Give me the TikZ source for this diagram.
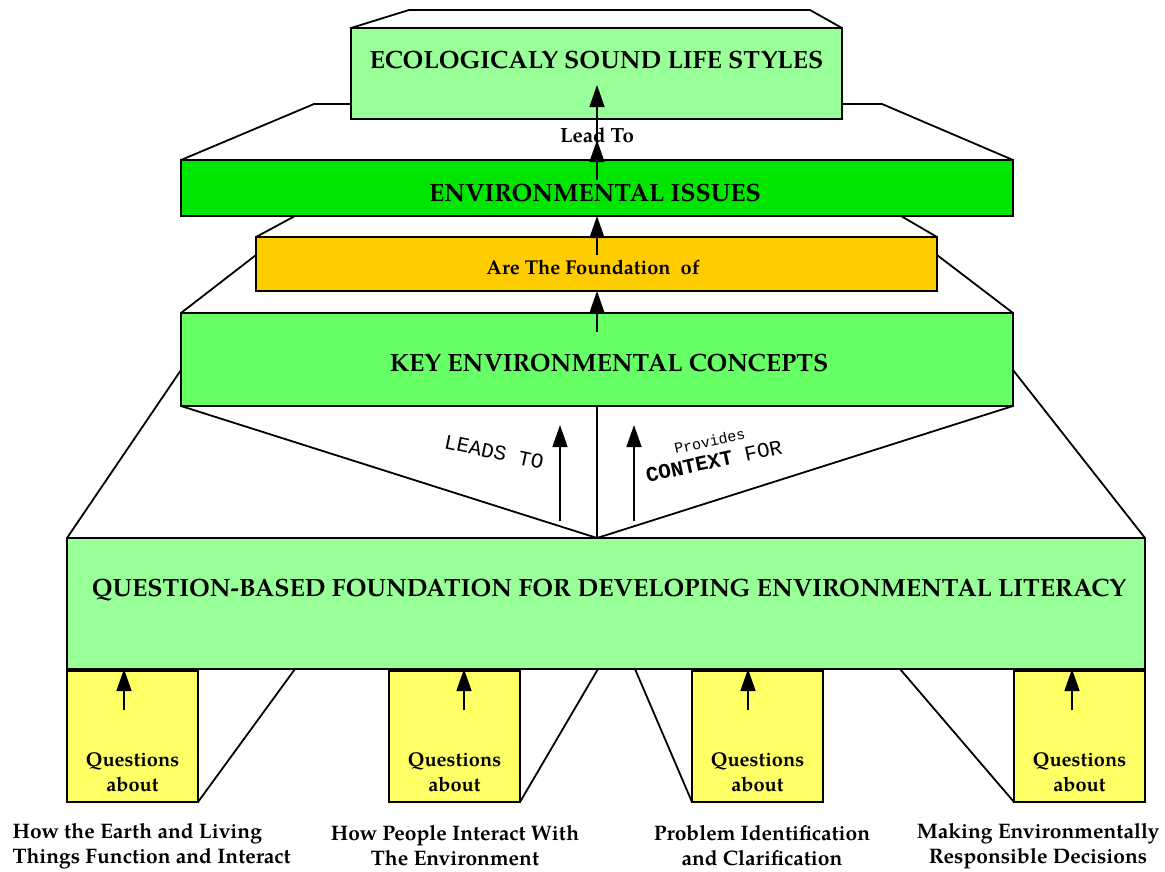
\documentclass[tikz,border=0pt]{standalone}
\usepackage{fontspec}
\setmainfont{TeX Gyre Pagella}
\setmonofont{Liberation Mono}
\usetikzlibrary{arrows.meta,backgrounds}

\definecolor{lifegreen}{RGB}{153,255,153}
\definecolor{issuegreen}{RGB}{0,230,0}
\definecolor{foundorange}{RGB}{255,204,0}
\definecolor{keygreen}{RGB}{102,255,102}
\definecolor{qyellow}{RGB}{255,255,102}

\tikzset{
  box/.style={draw, line width=1.6pt, inner sep=0pt, outer sep=0pt},
  title/.style={font=\bfseries\fontsize{25}{30}\selectfont},
  qtext/.style={font=\bfseries\fontsize{20}{25}\selectfont, align=center},
  htext/.style={font=\bfseries\fontsize{21}{25}\selectfont, align=center},
  up/.style={line width=1.4pt, -{Triangle[width=15pt,length=22pt]}},
  persp/.style={line width=1.8pt}
}

\begin{document}
\begin{tikzpicture}[x=1pt,y=-1pt]
		\useasboundingbox (0,0) rectangle (1165,871);
		%%%%% BOXES %%%%%
		\node[box, fill=lifegreen, minimum width=491pt, minimum height=91pt] (life) at (596.5,73.5) {};
		\node[box, fill=issuegreen, minimum width=832pt, minimum height=56pt] (issue) at (597,188) {};
		\node[box, fill=foundorange, minimum width=681pt, minimum height=54pt] (found) at (596.5,264) {};
		\node[box, fill=keygreen, minimum width=832pt, minimum height=93pt] (key) at (597,359.5) {};
		\node[box, fill=lifegreen, minimum width=1078pt, minimum height=131pt] (quest) at (606,603.5) {};
		
		\node[title] at (596.5,60) {ECOLOGICALY SOUND LIFE STYLES};
		\node[title] at (595,193) {ENVIRONMENTAL ISSUES};
		\node[qtext] at (593,267) {Are The Foundation\ \ of};
		\node[title] at (609,363) {KEY ENVIRONMENTAL CONCEPTS};
		\node[title] at (609,590) {QUESTION-BASED FOUNDATION FOR DEVELOPING ENVIRONMENTAL LITERACY};
		
		%%%%% QUESTIONS %%%%%
		\foreach \cx/\ax/\n in {132.5/124/1, 454.5/464/2, 757.5/748/3, 1079.5/1072/4} {
			\node[box, fill=qyellow, minimum width=131pt, minimum height=131pt] (q\n) at (\cx,736.5) {};
			\node[qtext] at (\cx,772) {Questions\\about};
			\coordinate (t\n) at (\ax,710);
			\draw[up] (t\n) -- (t\n |- quest.south);
		}
		
		\node[htext, align=left, anchor=west] (h1) at (9,846) {How the Earth and Living\\Things Function and Interact};
		\node[htext] (h2) at (455,846) {How People Interact With\\The Environment};
		\node[htext] (h3) at (762,846) {Problem Identification\\and Clarification};
		\node[htext] (h4) at (1038,846) {Making Environmentally\\Responsible Decisions};
		
		%%%%% PERSPECTIVE LINES %%%%%
		\begin{scope}[on background layer]
			\draw[persp] (life.north west) -- (409,10) -- (810,10) -- (life.north east);
			\draw[persp] (issue.north west) -- (314,104) -- (882,104) -- (issue.north east);
			\draw[persp] (found.north west) -- (295,216) -- (901,216) -- (found.north east);
			\draw[persp] (key.north west) -- ([yshift=-18pt]found.north west);
			\draw[persp] (key.north east) -- ([yshift=-18pt]found.north east);
			\draw[persp] (quest.north west) -- (181,370);
			\draw[persp] (quest.north east) -- (1013,370);
		\end{scope}
		\coordinate (apex) at (597,538);
		\draw[persp] (key.south west) -- (apex) -- (key.south east);
		\draw[persp] (apex) -- (apex |- key.south);
		
		\draw[persp] (q1.south east) -- (295,669);
		\draw[persp] (q2.south east) -- (598,669);
		\draw[persp] (q3.south west) -- (635,669);
		\draw[persp] (q4.south west) -- (900,669);
		
		%%%%% ARROWS %%%%%
		\coordinate (c1) at (597,332);
		\coordinate (c2) at (597,255);
		\coordinate (c3) at (597,180);
		\coordinate (c4) at (597,140);
		\draw[up] (c1) -- (c1 |- found.south);
		\draw[up] (c2) -- (c2 |- issue.south);
		\draw[up] (c3) -- (c4);
		\draw[up] (c4) -- (597,85);
		\node[font=\bfseries\fontsize{20.5}{24}\selectfont] (lead) at (597,135) {Lead To};
		
		\coordinate (l1) at (560,521);
		\coordinate (r1) at (634,521);
		\draw[up] (l1) -- (560,425);
		\draw[up] (r1) -- (634,425);
		\node[font=\ttfamily\fontsize{21}{24}\selectfont, rotate=-12] (leads) at (494,452) {LEADS TO};
		\node[font=\ttfamily\fontsize{21}{22}\selectfont, align=center, rotate=12] (ctx) at (712,452)
			{{\fontsize{15}{16}\selectfont Provides}\\\textbf{CONTEXT} FOR};
\end{tikzpicture}
\end{document}
